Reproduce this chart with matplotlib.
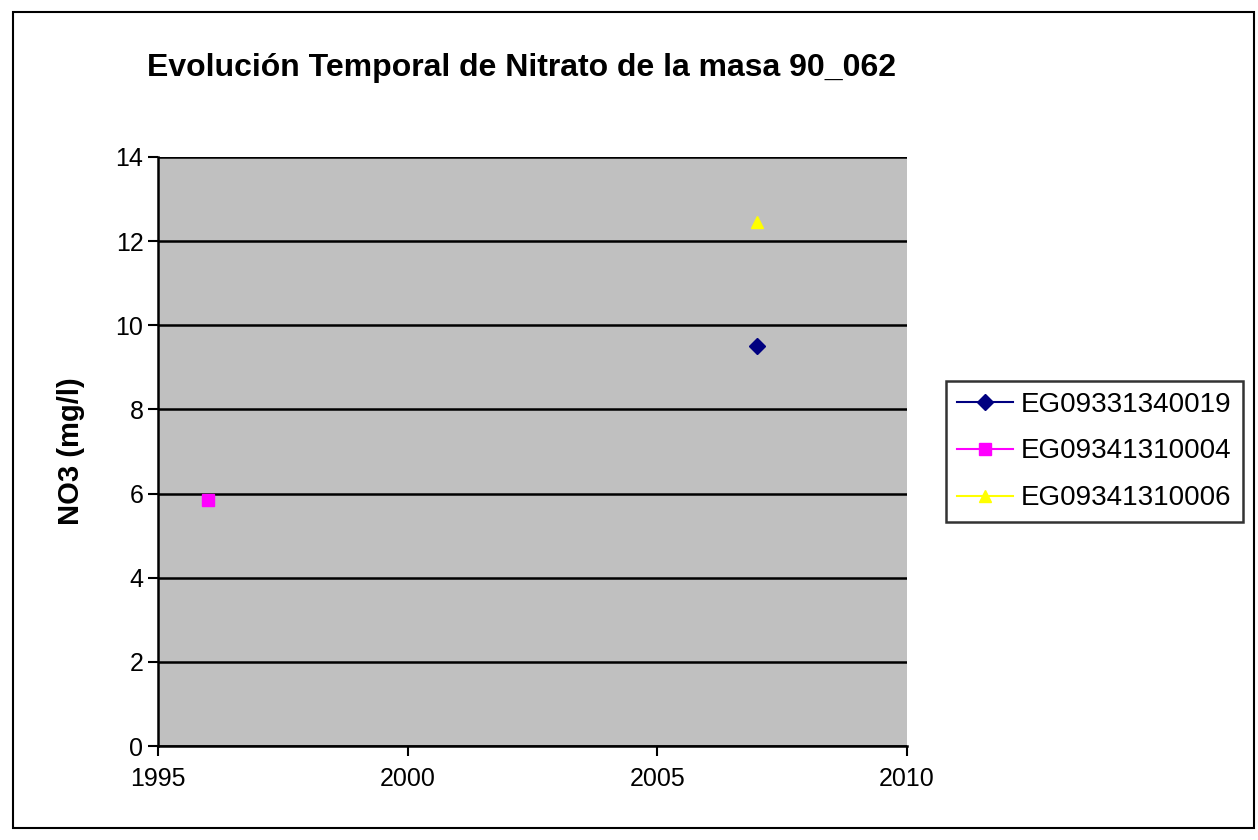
import matplotlib
matplotlib.use("Agg")
import matplotlib.pyplot as plt
from matplotlib.patches import Rectangle

plt.rcParams['font.family'] = ['Liberation Sans', 'DejaVu Sans']

# data
series = ["EG09331340019", "EG09341310004", "EG09341310006"]
years = [[2007], [1996], [2007]]
values = [[9.5], [5.85], [12.45]]
colors = ["#000080", "#ff00ff", "#ffff00"]
markers = ["D", "s", "^"]
xticks = [1995, 2000, 2005, 2010]
yticks = [0, 2, 4, 6, 8, 10, 12, 14]

fig = plt.figure(figsize=(12.58, 8.4), dpi=100)
fig.patches.append(Rectangle((0.0103, 0.0143), 0.9865, 0.971, transform=fig.transFigure,
                             fill=False, edgecolor="black", linewidth=1.5))

ax = fig.add_axes([0.1256, 0.1119, 0.5954, 0.7012])
ax.set_facecolor("#c0c0c0")

for name, x, y, c, m in zip(series, years, values, colors, markers):
    ax.plot(x, y, color=c, marker=m, markersize=8, linewidth=1.5, label=name)

ax.set_xlim(1995, 2010)
ax.set_ylim(0, 14)
ax.set_xticks(xticks)
ax.set_yticks(yticks)
ax.yaxis.grid(True, color="black", linewidth=1.8)
ax.set_axisbelow(True)
ax.tick_params(labelsize=18, direction="out", length=7, width=1.5)
ax.tick_params(axis="x", pad=8)
for s in ["top", "right"]:
    ax.spines[s].set_visible(False)
for s in ["left", "bottom"]:
    ax.spines[s].set_linewidth(1.8)

ax.set_ylabel("NO3 (mg/l)", fontsize=21, fontweight="bold", labelpad=22)
fig.text(0.117, 0.919, "Evolución Temporal de Nitrato de la masa 90_062",
         fontsize=23, fontweight="bold", ha="left", va="center")

leg = ax.legend(loc="center left", bbox_to_anchor=(946 / 1258, 1 - 451.5 / 840),
                bbox_transform=fig.transFigure, frameon=True, borderaxespad=0,
                fancybox=False, edgecolor="black", fontsize=20, handlelength=2.0,
                handletextpad=0.3, borderpad=0.4, labelspacing=0.75)
leg.get_frame().set_linewidth(1.8)

fig.savefig("out.png", dpi=100)
